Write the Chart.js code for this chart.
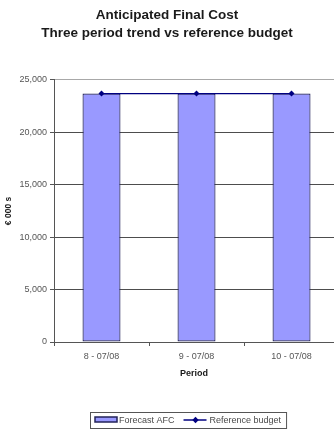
<!DOCTYPE html>
<html>
<head>
<meta charset="utf-8">
<script src="https://cdn.jsdelivr.net/npm/chart.js@4/dist/chart.umd.min.js"></script>
<style>
  html, body { margin: 0; padding: 0; background: #fff; overflow: hidden; }
  #wrap { width: 334px; height: 433px; position: relative; }
</style>
</head>
<body>
<div id="wrap"><canvas id="c"></canvas></div>
<script>
// Anticipated final cost per reporting period (EUR thousands)
const periods = ['8 - 07/08', '9 - 07/08', '10 - 07/08'];
const forecastAFC = [23700, 23700, 23700];
const referenceBudget = [23700, 23700, 23700];
const yTickValues = [0, 5000, 10000, 15000, 20000, 25000];

const FONT = '"Liberation Sans", Arial, sans-serif';
const BAR_FILL = '#9999ff';
const BAR_EDGE = '#23235a';
const LINE_COL = '#000080';

// Framed legend below the axis: bar swatch, then line-with-marker swatch
const framedLegend = {
  id: 'framedLegend',
  afterDraw(chart) {
    const ctx = chart.ctx;
    const [bars, line] = chart.data.datasets;
    const left = 90, top = 412, h = 16, cy = top + h / 2;
    ctx.save();
    ctx.font = '9px ' + FONT;
    ctx.textBaseline = 'middle';

    let x = left + 5;
    ctx.fillStyle = bars.backgroundColor;
    ctx.fillRect(x, cy - 3, 22, 5);
    ctx.strokeStyle = bars.borderColor;
    ctx.lineWidth = 1.5;
    ctx.strokeRect(x, cy - 3, 22, 5);
    x += 24;
    ctx.fillStyle = '#4a4a4a';
    ctx.fillText(bars.label, x, cy + 0.5);
    x += ctx.measureText(bars.label).width + 9;

    ctx.strokeStyle = line.borderColor;
    ctx.lineWidth = 1.5;
    ctx.beginPath();
    ctx.moveTo(x, cy);
    ctx.lineTo(x + 23, cy);
    ctx.stroke();
    const mx = x + 12;
    ctx.fillStyle = line.borderColor;
    ctx.beginPath();
    ctx.moveTo(mx, cy - 3.2);
    ctx.lineTo(mx + 3.2, cy);
    ctx.lineTo(mx, cy + 3.2);
    ctx.lineTo(mx - 3.2, cy);
    ctx.closePath();
    ctx.fill();
    x += 26;
    ctx.fillStyle = '#4a4a4a';
    ctx.fillText(line.label, x, cy + 0.5);
    x += ctx.measureText(line.label).width + 5;

    ctx.strokeStyle = '#555';
    ctx.lineWidth = 1;
    ctx.strokeRect(left + 0.5, top + 0.5, x - left, h);
    ctx.restore();
  }
};

new Chart(document.getElementById('c'), {
  data: {
    datasets: [
      {
        type: 'bar',
        label: 'Forecast AFC',
        data: forecastAFC.map((v, i) => ({ x: i, y: v })),
        backgroundColor: BAR_FILL,
        borderColor: BAR_EDGE,
        borderWidth: 1.2,
        borderSkipped: false,
        categoryPercentage: 0.8,
        barPercentage: 0.5,
        order: 2
      },
      {
        type: 'line',
        label: 'Reference budget',
        data: referenceBudget.map((v, i) => ({ x: i, y: v })),
        borderColor: LINE_COL,
        backgroundColor: LINE_COL,
        borderWidth: 1.3,
        pointStyle: 'rectRot',
        pointRadius: 3,
        pointBorderWidth: 0,
        fill: false,
        clip: false,
        order: 1
      }
    ]
  },
  options: {
    responsive: true,
    maintainAspectRatio: false,
    animation: false,
    events: [],
    layout: { autoPadding: false, padding: { left: 0, right: 0, top: 0, bottom: 54 } },
    plugins: {
      legend: { display: false },
      tooltip: { enabled: false },
      title: {
        display: true,
        text: ['Anticipated Final Cost', 'Three period trend vs reference budget'],
        color: '#1a1a1a',
        font: { family: FONT, size: 13.5, weight: 'bold', lineHeight: 1.33 },
        padding: { top: 6, bottom: 38 }
      }
    },
    scales: {
      x: {
        type: 'linear',
        offset: false,
        min: -0.5,
        max: 2.447,
        afterFit: s => { s.height = 37; },
        ticks: {
          stepSize: 1,
          includeBounds: false,
          autoSkip: false,
          maxRotation: 0,
          padding: 5,
          color: '#555',
          font: { family: FONT, size: 9 },
          callback: v => periods[v] ?? ''
        },
        grid: {
          offset: true,
          drawOnChartArea: false,
          drawTicks: true,
          tickLength: 4,
          color: '#555',
          tickColor: '#555'
        },
        border: { display: true, color: '#555', width: 1 },
        title: {
          display: true,
          text: 'Period',
          color: '#1a1a1a',
          font: { family: FONT, size: 9, weight: 'bold' },
          padding: { top: 0, bottom: 0 }
        }
      },
      y: {
        type: 'linear',
        min: 0,
        max: 25000,
        afterFit: s => { s.width = 54; },
        afterBuildTicks: s => { s.ticks = yTickValues.map(v => ({ value: v })); },
        ticks: {
          padding: 3,
          color: '#555',
          font: { family: FONT, size: 9 },
          callback: v => Number(v).toLocaleString('en-US')
        },
        grid: {
          color: ctx => (ctx.tick && ctx.tick.value === 25000 ? '#a8a8a8' : '#4d4d4d'),
          tickColor: '#555',
          tickLength: 4,
          lineWidth: 1
        },
        border: { display: true, color: '#555', width: 1 },
        title: {
          display: true,
          text: '€ 000 s',
          color: '#1a1a1a',
          font: { family: FONT, size: 8.5, weight: 'bold' },
          padding: { top: 4, bottom: 0 }
        }
      }
    }
  },
  plugins: [framedLegend]
});
</script>
</body>
</html>
